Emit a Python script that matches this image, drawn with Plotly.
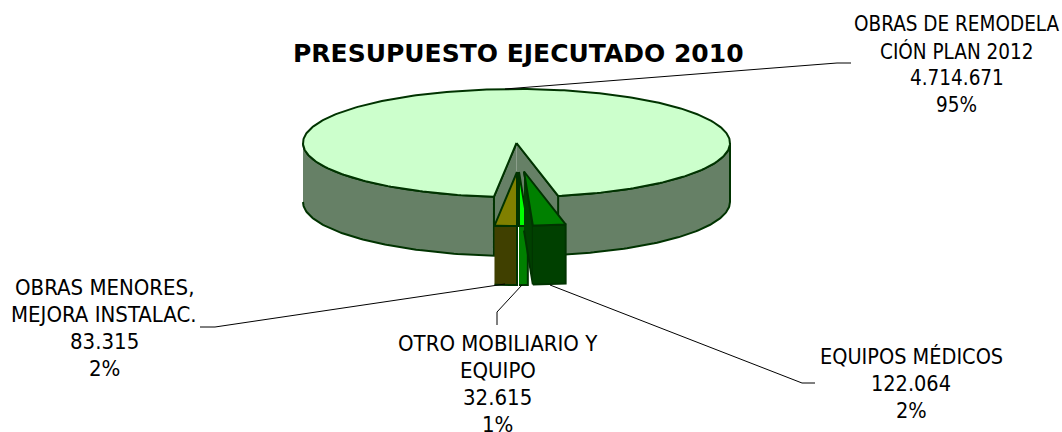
import numpy as np
import plotly.graph_objects as go

TITLE = "PRESUPUESTO EJECUTADO 2010"
categories = ["OBRAS DE REMODELACIÓN PLAN 2012", "EQUIPOS MÉDICOS", "OTRO MOBILIARIO Y EQUIPO",
              "OBRAS MENORES, MEJORA INSTALAC."]
values = [4714671, 122064, 32615, 83315]
percent_labels = ["95%", "2%", "1%", "2%"]
label_lines = [
    ["OBRAS DE REMODELA", "CIÓN PLAN 2012"],
    ["EQUIPOS MÉDICOS"],
    ["OTRO MOBILIARIO Y", "EQUIPO"],
    ["OBRAS MENORES,", "MEJORA INSTALAC."],
]
value_labels = ["4.714.671", "122.064", "32.615", "83.315"]

top_colors = ["#CCFFCC", "#008000", "#00FF00", "#808000"]
side_colors = ["#668066", "#004000", "#008000", "#404000"]
EDGE = "#003300"

W, H = 1062, 432
CX, CY, RX, RY, DEPTH = 516.5, 143.0, 213.5, 54.0, 59.0
offsets = [(0, 0), (7.5, 28.5), (2.5, 29), (0.5, 29)]
label_pos = [(956.5, 24), (911, 356), (497.5, 343), (104, 287)]
label_sizes = [20.5, 21.5, 22, 22]
LINE = 27
leaders = [
    [(505, 89), (837, 63), (851, 63)],
    [(550, 285), (802, 383), (815, 383)],
    [(522, 285), (497, 312), (497, 325)],
    [(505, 284), (215, 327), (200, 327)],
]

fracs = np.array(values, float) / sum(values)
sweep = fracs * 360
# angles are measured from the front of the ellipse, positive to the right
menores_end = 0.0
otro_end = menores_end + sweep[2]
equipos_end = otro_end + sweep[1]
spans = [
    (equipos_end, 360 - sweep[3]),
    (otro_end, equipos_end),
    (menores_end, otro_end),
    (-sweep[3], menores_end),
]


def arc(t0, t1, dx=0.0, dy=0.0, n=None):
    n = n or max(3, int(abs(t1 - t0)) + 2)
    t = np.radians(np.linspace(t0, t1, n))
    return CX + dx + RX * np.sin(t), CY + dy + RY * np.cos(t)


fig = go.Figure()


def poly(x, y, color, name):
    fig.add_trace(go.Scatter(
        x=list(x), y=list(y), mode="lines", fill="toself", fillcolor=color,
        line=dict(color=EDGE, width=2), name=name, hoverinfo="name", showlegend=False,
    ))


# main slice: outer rim (visible front parts), inner walls, top
t0, t1 = spans[0]
ax, ay = arc(t0, 90)
poly(np.r_[ax, ax[::-1]], np.r_[ay, ay[::-1] + DEPTH], side_colors[0], categories[0])
ax, ay = arc(270, t1)
poly(np.r_[ax, ax[::-1]], np.r_[ay, ay[::-1] + DEPTH], side_colors[0], categories[0])
for t in (t0, t1):
    ex, ey = arc(t, t, n=2)
    poly([CX, ex[0], ex[0], CX], [CY, ey[0], ey[0] + DEPTH, CY + DEPTH], side_colors[0], categories[0])
ax, ay = arc(t0, t1)
poly(np.r_[CX, ax, CX], np.r_[CY, ay, CY], top_colors[0], categories[0])

# exploded slices, back to front
for i in (3, 2, 1):
    dx, dy = offsets[i]
    t0, t1 = spans[i]
    ax, ay = arc(t0, t1, dx, dy)
    px, py = CX + dx, CY + dy
    if i == 1:
        ex, ey = arc(t0, t0, dx, dy, n=2)
        poly([px, ex[0], ex[0], px], [py, ey[0], ey[0] + DEPTH, py + DEPTH], side_colors[i], categories[i])
    poly(np.r_[ax, ax[::-1]], np.r_[ay, ay[::-1] + DEPTH], side_colors[i], categories[i])
    poly(np.r_[px, ax, px], np.r_[py, ay, py], top_colors[i], categories[i])

shapes = []
for pts in leaders:
    path = "M " + " L ".join(f"{x},{y}" for x, y in pts)
    shapes.append(dict(type="path", path=path, xref="x", yref="y", line=dict(color="#000000", width=1)))

FONT = "DejaVu Sans Condensed, DejaVu Sans"
annotations = [dict(x=518, y=53, text=f"<b>{TITLE}</b>", showarrow=False, xanchor="center", yanchor="middle",
                    font=dict(family="DejaVu Sans", size=25, color="#000000"))]
for i in range(len(values)):
    lines = label_lines[i] + [value_labels[i], percent_labels[i]]
    lx, ly = label_pos[i]
    for k, line in enumerate(lines):
        annotations.append(dict(x=lx, y=ly + k * LINE, text=line, showarrow=False, xanchor="center",
                                yanchor="middle", font=dict(family=FONT, size=label_sizes[i], color="#000000")))

fig.update_layout(
    width=W, height=H, margin=dict(l=0, r=0, t=0, b=0), paper_bgcolor="white", plot_bgcolor="white",
    xaxis=dict(range=[0, W], visible=False, fixedrange=True),
    yaxis=dict(range=[H, 0], visible=False, fixedrange=True),
    shapes=shapes, annotations=annotations,
)
fig.write_html("out.html", config=dict(displayModeBar=False),
               post_script="document.body.style.margin='0';document.body.style.overflow='hidden';")
